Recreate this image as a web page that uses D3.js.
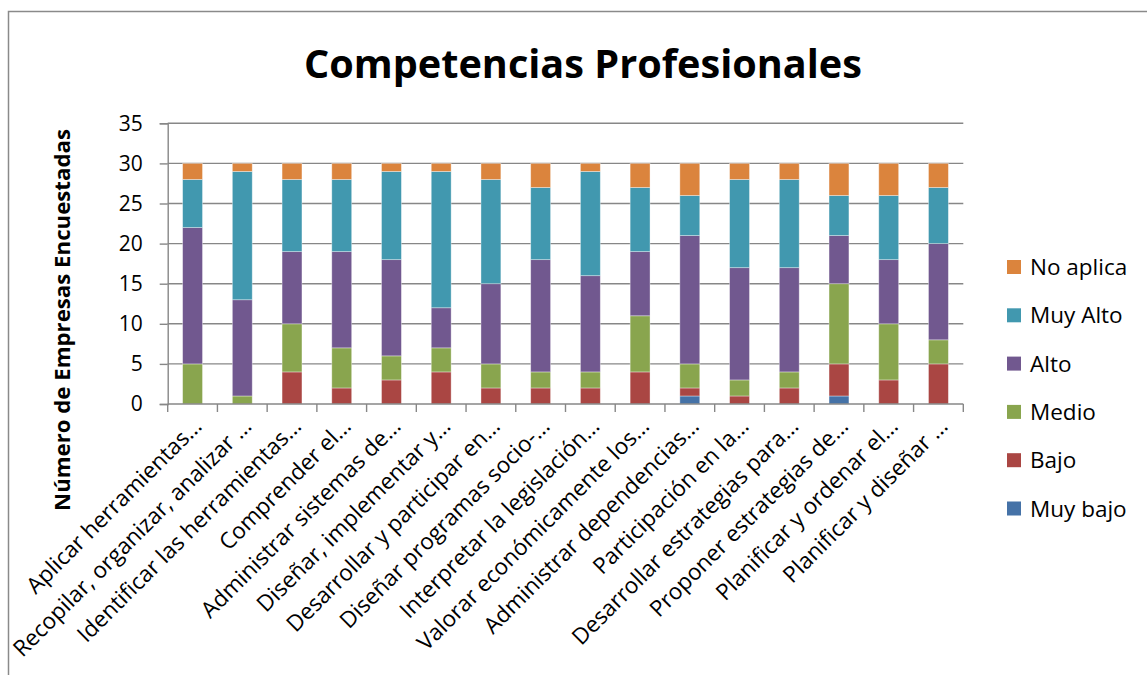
<!DOCTYPE html>
<html>
<head>
<meta charset="utf-8">
<script src="https://cdn.jsdelivr.net/npm/d3@7"></script>
<style>
  body { margin: 0; background: #fff; }
  svg { display: block; font-family: 'Open Sans', sans-serif; }
</style>
</head>
<body>
<div id="chart"></div>
<script>
const categories = [
  'Aplicar herramientas…',
  'Recopilar, organizar, analizar …',
  'Identificar las herramientas…',
  'Comprender el…',
  'Administrar sistemas de…',
  'Diseñar, implementar y…',
  'Desarrollar y participar en…',
  'Diseñar programas socio-…',
  'Interpretar la legislación…',
  'Valorar económicamente los…',
  'Administrar dependencias…',
  'Participación en la…',
  'Desarrollar estrategias para…',
  'Proponer estrategias de…',
  'Planificar y ordenar el…',
  'Planificar y diseñar …'
]

const muyBajo = [0, 0, 0, 0, 0, 0, 0, 0, 0, 0, 1, 0, 0, 1, 0, 0]
const bajo = [0, 0, 4, 2, 3, 4, 2, 2, 2, 4, 1, 1, 2, 4, 3, 5]
const medio = [5, 1, 6, 5, 3, 3, 3, 2, 2, 7, 3, 2, 2, 10, 7, 3]
const alto = [17, 12, 9, 12, 12, 5, 10, 14, 12, 8, 16, 14, 13, 6, 8, 12]
const muyAlto = [6, 16, 9, 9, 11, 17, 13, 9, 13, 8, 5, 11, 11, 5, 8, 7]
const noAplica = [2, 1, 2, 2, 1, 1, 2, 3, 1, 3, 4, 2, 2, 4, 4, 3]

const seriesNames = ['Muy bajo', 'Bajo', 'Medio', 'Alto', 'Muy Alto', 'No aplica']
const seriesColors = ['#4572A7', '#AA4643', '#89A54E', '#71588F', '#4198AF', '#DB843D']
const yTicks = [0, 5, 10, 15, 20, 25, 30, 35]

const width = 1147
const height = 675
const plot = { left: 167.7, right: 963.3, top: 123.3, bottom: 404 }

const svg = d3
  .select('#chart')
  .append('svg')
  .attr('width', width)
  .attr('height', height)

// outer frame (cut by the page on the right and bottom)
svg
  .append('rect')
  .attr('x', 8.5)
  .attr('y', 11.5)
  .attr('width', 1300)
  .attr('height', 800)
  .attr('fill', 'none')
  .attr('stroke', '#8a8a8a')
  .attr('stroke-width', 1.5)

// build table for the stack
const table = categories.map((c, i) => ({
  cat: c,
  'Muy bajo': muyBajo[i],
  Bajo: bajo[i],
  Medio: medio[i],
  Alto: alto[i],
  'Muy Alto': muyAlto[i],
  'No aplica': noAplica[i]
}))

const stacked = d3.stack().keys(seriesNames)(table)

const xPositionScale = d3
  .scaleBand()
  .domain(categories)
  .range([plot.left, plot.right])
  .paddingInner(0.6)
  .paddingOuter(0.3)

const yPositionScale = d3
  .scaleLinear()
  .domain([0, 35])
  .range([plot.bottom, plot.top])

const colorScale = d3.scaleOrdinal().domain(seriesNames).range(seriesColors)

// gridlines
svg
  .append('g')
  .selectAll('line')
  .data(yTicks.filter(d => d > 0))
  .enter()
  .append('line')
  .attr('x1', plot.left)
  .attr('x2', plot.right)
  .attr('y1', d => yPositionScale(d))
  .attr('y2', d => yPositionScale(d))
  .attr('stroke', '#878787')
  .attr('stroke-width', 1.4)

// y axis
const yAxis = d3
  .axisLeft(yPositionScale)
  .tickValues(yTicks)
  .tickSize(8)
  .tickPadding(17)
const yG = svg
  .append('g')
  .attr('transform', `translate(${plot.left},0)`)
  .call(yAxis)
yG.select('.domain').attr('stroke', '#878787').attr('stroke-width', 1.4)
yG.selectAll('.tick line').attr('stroke', '#878787').attr('stroke-width', 1.4)
yG
  .selectAll('.tick text')
  .attr('font-size', 21)
  .attr('font-family', 'Open Sans')
  .attr('fill', '#000')

// bars
svg
  .append('g')
  .selectAll('g')
  .data(stacked)
  .enter()
  .append('g')
  .attr('fill', d => colorScale(d.key))
  .selectAll('rect')
  .data(d => d)
  .enter()
  .filter(d => d[1] - d[0] > 0)
  .append('rect')
  .attr('x', d => xPositionScale(d.data.cat))
  .attr('width', xPositionScale.bandwidth())
  .attr('y', d => yPositionScale(d[1]))
  .attr('height', d => yPositionScale(d[0]) - yPositionScale(d[1]))
  .attr('stroke', 'rgba(255,255,255,0.45)')
  .attr('stroke-width', 0.8)

// x axis line and ticks at category boundaries
const step = xPositionScale.step()
const xAxisG = svg.append('g')
xAxisG
  .append('line')
  .attr('x1', plot.left)
  .attr('x2', plot.right)
  .attr('y1', plot.bottom)
  .attr('y2', plot.bottom)
  .attr('stroke', '#878787')
  .attr('stroke-width', 1.4)
xAxisG
  .selectAll('.xtick')
  .data(d3.range(categories.length + 1))
  .enter()
  .append('line')
  .attr('x1', i => plot.left + i * step)
  .attr('x2', i => plot.left + i * step)
  .attr('y1', plot.bottom)
  .attr('y2', plot.bottom + 8)
  .attr('stroke', '#878787')
  .attr('stroke-width', 1.4)

// x labels, rotated
xAxisG
  .selectAll('.xlabel')
  .data(categories)
  .enter()
  .append('text')
  .attr('transform', d => {
    const cx = xPositionScale(d) + xPositionScale.bandwidth() / 2
    return `translate(${cx + 5},${plot.bottom + 18}) rotate(-45)`
  })
  .attr('text-anchor', 'end')
  .attr('dy', '0.35em')
  .attr('font-size', 22.5)
  .attr('fill', '#000')
  .text(d => d)

// title, fitted to the width seen in the chart
const title = svg
  .append('text')
  .attr('x', 583)
  .attr('y', 78)
  .attr('text-anchor', 'middle')
  .attr('font-weight', 'bold')
  .attr('font-size', 36)
  .attr('fill', '#000')
  .text('Competencias Profesionales')
const tLen = title.node().getComputedTextLength()
title.attr('font-size', 36 * 558 / tLen)

// y axis title
const yTitle = svg
  .append('text')
  .attr('transform', 'translate(70,320) rotate(-90)')
  .attr('text-anchor', 'middle')
  .attr('font-weight', 'bold')
  .attr('font-size', 20)
  .attr('fill', '#000')
  .text('Número de Empresas Encuestadas')
const yLen = yTitle.node().getComputedTextLength()
yTitle.attr('font-size', 20 * 382 / yLen)

// legend, top entry is the last series
const legendOrder = seriesNames.slice().reverse()
const legend = svg
  .append('g')
  .selectAll('g')
  .data(legendOrder)
  .enter()
  .append('g')
  .attr('transform', (d, i) => `translate(1007,${260 + i * 48.3})`)
legend
  .append('rect')
  .attr('width', 14)
  .attr('height', 14)
  .attr('fill', d => colorScale(d))
legend
  .append('text')
  .attr('x', 23)
  .attr('y', 7)
  .attr('dy', '0.36em')
  .attr('font-size', 22.5)
  .attr('fill', '#000')
  .text(d => d)
</script>
</body>
</html>
